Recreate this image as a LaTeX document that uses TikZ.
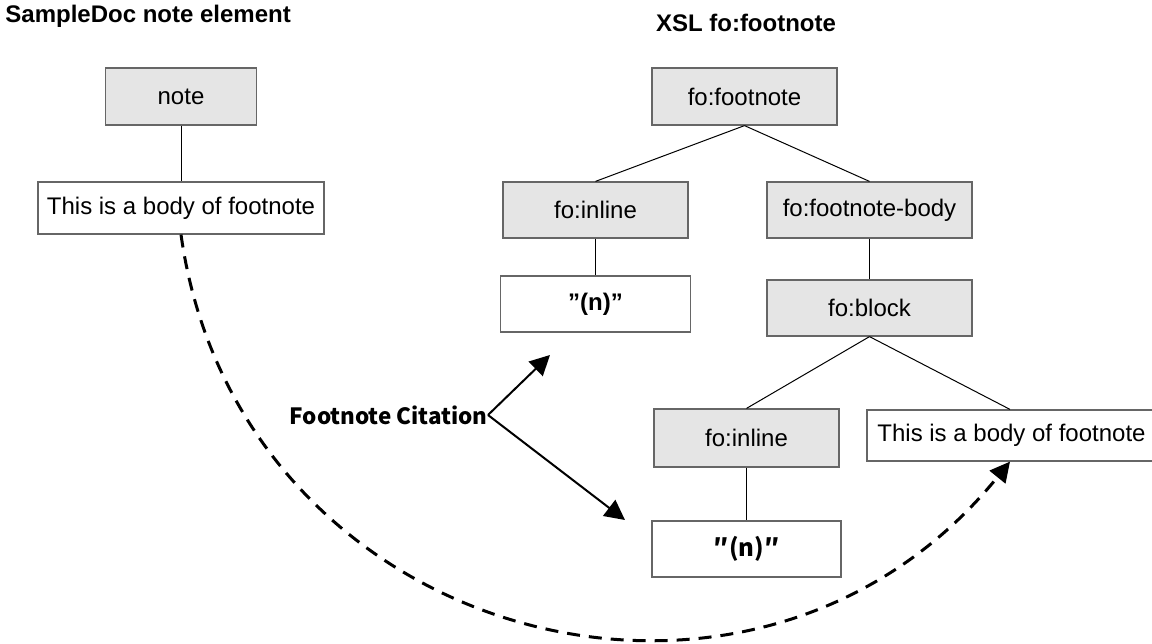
\documentclass[tikz,border=0pt]{standalone}
\usepackage{fontspec}
\setmainfont{Liberation Sans}
\newfontfamily\jpfont{Noto Sans CJK JP}
\usepackage{tikz}
\usetikzlibrary{arrows.meta}

\tikzset{
  elem/.style={draw=black!60,fill=gray!20,line width=0.6pt,inner sep=0pt,
    minimum width=92.5pt,minimum height=28pt,font=\fontsize{12}{14}\selectfont},
  textbox/.style={elem,fill=white},
  heading/.style={inner sep=0pt,font=\bfseries\fontsize{12}{14}\selectfont},
  cite/.style={inner sep=0pt,font=\jpfont\bfseries\fontsize{11.2}{13}\selectfont},
  tree/.style={line width=0.5pt},
  citearrow/.style={line width=1pt},
  jump/.style={line width=1.5pt,dash pattern=on 6.5pt off 4.5pt}
}

\begin{document}
\begin{tikzpicture}[x=0.5pt,y=-0.5pt,>={Triangle[length=10pt,width=10pt]}]

  \useasboundingbox (0,0) rectangle (1152,643);

  % titles
  \node[heading,anchor=base west] (lhead) at (5,22)   {SampleDoc note element};
  \node[heading,anchor=base]      (rhead) at (746,31) {XSL fo:footnote};

  % SampleDoc tree
  \node[elem,minimum width=75.5pt,minimum height=28.5pt] (note) at (181,96.5) {note};
  \node[textbox,node distance=55.75pt,below of=note,minimum width=143pt,minimum height=26pt] (lbody) {This is a body of footnote};

  % XSL tree
  \node[elem,minimum height=28.5pt] (foot) at (744.5,96.5) {fo:footnote};
  \node[elem,node distance=56.75pt,below of=foot,xshift=-74.5pt] (finline) {fo:inline};
  \node[elem,node distance=56.75pt,below of=foot,xshift=62.5pt,minimum width=102.5pt] (fbody) {fo:footnote-body};
  \node[textbox,node distance=47pt,below of=finline,minimum width=95pt] (ntop) {\bfseries "(n)"};
  \node[elem,node distance=49pt,below of=fbody,minimum width=102.5pt] (fblock) {fo:block};
  \node[elem,node distance=65pt,below of=fblock,xshift=-61.5pt,minimum height=29pt] (binline) {fo:inline};
  \node[textbox,node distance=63.75pt,below of=fblock,xshift=71pt,minimum width=144.5pt,minimum height=25.5pt] (rbody) {This is a body of footnote};
  \node[textbox,node distance=55.5pt,below of=binline,minimum width=94.5pt] (nbot) {\jpfont\bfseries ″(n)″};

  \path[tree] (note)    edge (lbody);
  \path[tree] (foot.south)   edge (finline.north);
  \path[tree] (foot.south)   edge (fbody.north);
  \path[tree] (finline) edge (ntop);
  \path[tree] (fbody)   edge (fblock);
  \path[tree] (fblock.south) edge (binline.north);
  \path[tree] (fblock.south) edge ([xshift=-0.75pt]rbody.north);
  \path[tree] (binline) edge (nbot);

  % citation arrows
  \node[cite,anchor=east] (cite) at (488,415) {Footnote Citation};
  \coordinate (ctop) at (550,355);
  \coordinate (cbot) at (625,520);
  \draw[citearrow,->] (cite.east) -- (ctop);
  \draw[citearrow,->] (cite.east) -- (cbot);

  % body moves over
  \draw[jump,->] (lbody.south) to[out=-82,in=-129,looseness=1.22] ([xshift=-0.75pt]rbody.south);

\end{tikzpicture}
\end{document}
